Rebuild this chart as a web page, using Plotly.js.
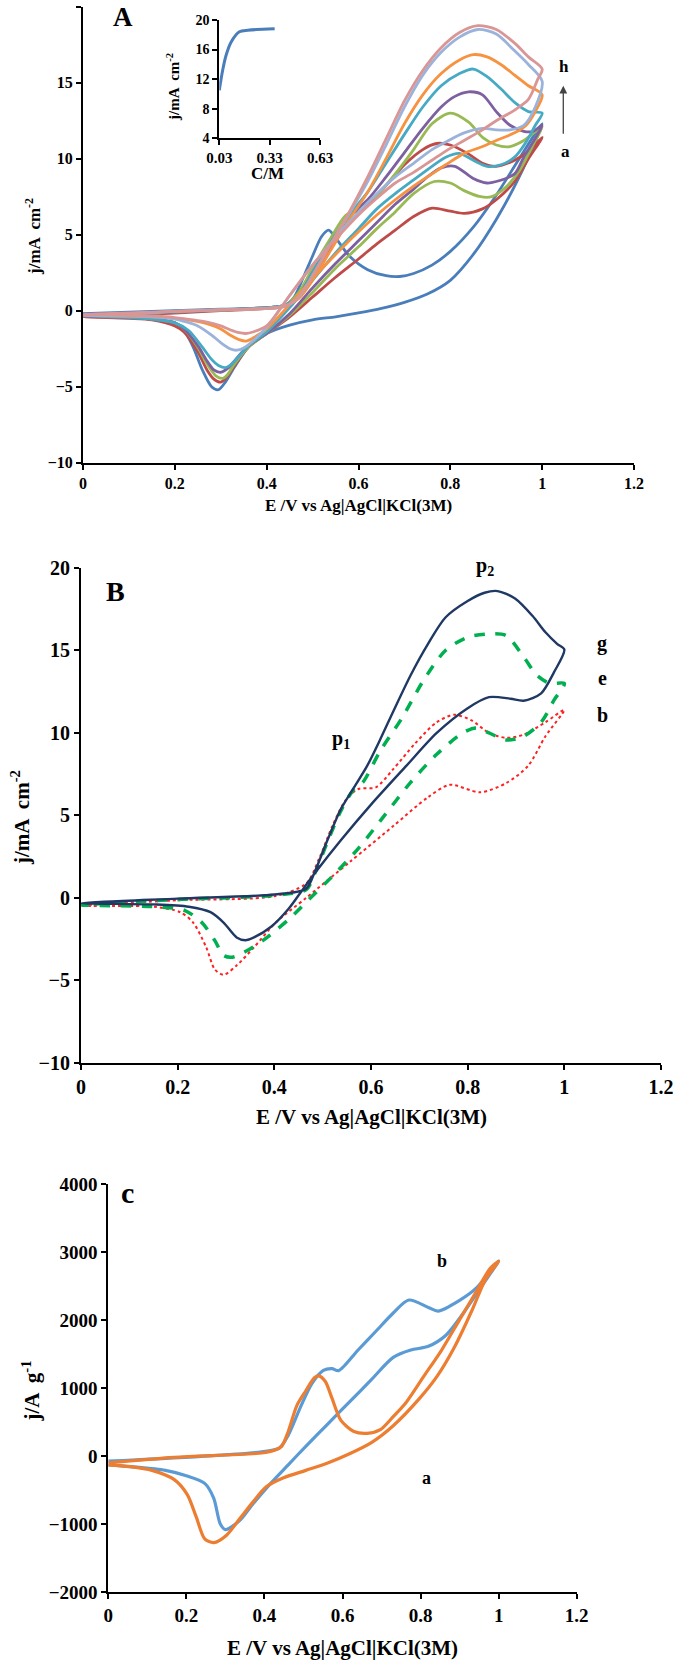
<!DOCTYPE html>
<html>
<head>
<meta charset="utf-8">
<script src="https://cdn.plot.ly/plotly-3.0.1.min.js"></script>
<style>html,body{margin:0;padding:0;background:#fff;}#chart{width:685px;height:1660px;}</style>
</head>
<body>
<div id="chart"></div>
<script>
// ---------- Panel A : CV curves a..h (forward sweep then reverse sweep) ----------
const A_a_E = [0,0.1,0.2,0.3,0.4,0.44,0.46,0.48,0.5,0.52,0.535,0.55,0.58,0.62,0.66,0.69,0.72,0.76,0.8,0.85,0.9,0.95,1.0,
  0.95,0.9,0.85,0.8,0.75,0.7,0.65,0.6,0.55,0.5,0.45,0.4,0.36,0.33,0.31,0.295,0.28,0.26,0.24,0.22,0.2,0.15,0.1,0];
const A_a_J = [-0.2,-0.1,0.0,0.1,0.2,0.35,0.9,2.2,3.6,4.9,5.3,4.8,3.6,2.7,2.3,2.25,2.45,3.0,3.9,5.5,7.6,10.0,12.3,
  8.8,6.0,3.7,2.0,1.1,0.55,0.15,-0.15,-0.4,-0.6,-0.95,-1.5,-2.4,-3.7,-4.7,-5.2,-5.0,-3.9,-2.4,-1.3,-0.8,-0.5,-0.4,-0.3];

const A_b_E = [0,0.1,0.2,0.3,0.4,0.44,0.47,0.5,0.54,0.58,0.61,0.65,0.7,0.74,0.77,0.8,0.84,0.87,0.9,0.94,0.97,1.0,
  0.97,0.94,0.9,0.87,0.83,0.8,0.76,0.72,0.68,0.64,0.6,0.55,0.5,0.45,0.4,0.36,0.33,0.315,0.3,0.285,0.27,0.25,0.22,0.2,0.15,0.1,0];
const A_b_J = [-0.4,-0.3,-0.15,0.0,0.15,0.3,0.9,2.2,4.2,6.3,6.7,7.9,9.6,10.6,11.0,10.9,10.3,9.7,9.5,9.9,10.5,11.4,
  10.0,8.5,7.3,6.7,6.4,6.55,6.75,6.2,5.3,4.4,3.4,2.2,0.9,-0.4,-1.5,-2.4,-3.6,-4.3,-4.7,-4.5,-3.9,-2.7,-1.4,-1.0,-0.6,-0.5,-0.4];

const A_c_E = [0,0.1,0.2,0.3,0.4,0.44,0.47,0.5,0.54,0.57,0.6,0.64,0.68,0.72,0.76,0.8,0.84,0.87,0.9,0.93,0.96,1.0,
  0.98,0.95,0.92,0.89,0.866,0.83,0.8,0.765,0.72,0.68,0.64,0.6,0.55,0.5,0.45,0.4,0.36,0.33,0.315,0.305,0.29,0.27,0.25,0.22,0.2,0.15,0.1,0];
const A_c_J = [-0.35,-0.25,-0.1,0.05,0.2,0.35,1.2,2.8,4.8,6.2,6.8,7.6,9.0,10.6,12.3,13.0,12.4,11.4,10.9,10.8,11.2,12.1,
  10.9,9.2,8.1,7.5,7.5,7.9,8.4,8.5,7.7,6.5,5.4,4.2,2.8,1.2,-0.3,-1.5,-2.4,-3.5,-4.2,-4.45,-4.3,-3.5,-2.4,-1.2,-0.8,-0.55,-0.45,-0.35];

const A_d_E = [0,0.1,0.2,0.3,0.4,0.44,0.47,0.5,0.54,0.58,0.62,0.66,0.7,0.74,0.78,0.81,0.84,0.87,0.9,0.93,0.96,0.98,1.0,
  0.98,0.96,0.94,0.9,0.88,0.85,0.81,0.78,0.75,0.72,0.68,0.64,0.6,0.55,0.5,0.45,0.4,0.36,0.33,0.315,0.3,0.285,0.27,0.25,0.22,0.2,0.15,0.1,0];
const A_d_J = [-0.35,-0.25,-0.1,0.05,0.2,0.35,1.0,2.5,4.5,6.2,7.3,8.8,10.4,12.0,13.4,14.1,14.4,14.2,13.1,12.2,11.8,11.8,12.2,
  11.1,10.1,9.0,8.5,8.4,8.7,9.5,9.4,8.8,8.0,7.0,5.8,4.6,3.1,1.5,-0.2,-1.5,-2.3,-3.3,-3.8,-4.05,-3.9,-3.3,-2.3,-1.2,-0.8,-0.55,-0.45,-0.35];

const A_e_E = [0,0.1,0.2,0.3,0.4,0.44,0.47,0.5,0.54,0.58,0.62,0.66,0.7,0.74,0.78,0.82,0.85,0.88,0.91,0.94,0.97,1.0,
  0.985,0.965,0.94,0.91,0.88,0.85,0.82,0.79,0.76,0.72,0.68,0.64,0.6,0.55,0.5,0.45,0.4,0.36,0.34,0.32,0.31,0.295,0.28,0.26,0.23,0.2,0.15,0.1,0];
const A_e_J = [-0.3,-0.2,-0.05,0.05,0.2,0.35,1.0,2.5,4.5,6.3,7.8,9.7,11.6,13.4,14.8,15.6,15.9,15.4,14.6,13.7,13.1,13.0,
  12.2,11.1,10.1,9.6,9.5,9.9,10.35,10.1,9.5,8.6,7.7,6.7,5.4,3.8,2.0,0.2,-1.4,-2.3,-3.0,-3.6,-3.75,-3.6,-3.2,-2.4,-1.3,-0.8,-0.55,-0.45,-0.3];

const A_f_E = [0,0.1,0.2,0.3,0.4,0.44,0.47,0.5,0.54,0.58,0.62,0.66,0.7,0.74,0.78,0.82,0.85,0.88,0.91,0.94,0.97,1.0,
  0.985,0.965,0.94,0.9,0.87,0.83,0.79,0.76,0.72,0.68,0.64,0.6,0.55,0.5,0.45,0.4,0.37,0.355,0.34,0.32,0.3,0.27,0.24,0.2,0.15,0.1,0];
const A_f_J = [-0.3,-0.2,-0.05,0.05,0.15,0.3,0.8,2.0,4.0,6.0,7.8,10.0,12.3,14.2,15.6,16.5,16.85,16.7,16.2,15.5,14.8,14.2,
  13.1,12.2,11.7,11.2,10.8,10.35,9.6,9.0,8.2,7.3,6.3,5.2,3.7,2.1,0.4,-1.2,-1.8,-2.0,-1.9,-1.6,-1.2,-0.85,-0.65,-0.5,-0.4,-0.35,-0.3];

const A_g_E = [0,0.1,0.2,0.3,0.4,0.44,0.47,0.5,0.54,0.58,0.62,0.66,0.7,0.74,0.78,0.82,0.86,0.9,0.94,0.97,1.0,
  0.985,0.96,0.93,0.9,0.87,0.83,0.79,0.76,0.72,0.68,0.64,0.6,0.55,0.5,0.45,0.4,0.37,0.35,0.335,0.32,0.3,0.28,0.25,0.22,0.2,0.15,0.1,0];
const A_g_J = [-0.3,-0.2,-0.05,0.05,0.15,0.3,0.9,2.3,4.4,6.4,8.5,10.9,13.4,15.5,17.0,18.0,18.5,18.2,17.1,16.2,15.1,
  13.4,12.2,11.9,11.9,12.0,11.7,11.1,10.6,9.7,8.8,7.7,6.5,4.8,3.0,1.0,-1.1,-2.0,-2.45,-2.6,-2.5,-2.1,-1.6,-1.0,-0.7,-0.55,-0.4,-0.35,-0.3];

const A_h_E = [0,0.1,0.2,0.3,0.4,0.44,0.47,0.5,0.54,0.58,0.62,0.66,0.7,0.74,0.78,0.82,0.86,0.9,0.94,0.97,1.0,
  0.99,0.97,0.94,0.9,0.87,0.83,0.79,0.76,0.72,0.68,0.64,0.6,0.55,0.5,0.45,0.4,0.37,0.355,0.34,0.32,0.3,0.27,0.24,0.2,0.15,0.1,0];
const A_h_J = [-0.25,-0.15,-0.05,0.05,0.15,0.3,0.9,2.3,4.4,6.5,8.8,11.3,13.8,15.8,17.3,18.3,18.75,18.5,17.6,16.7,15.9,
  15.2,13.9,13.2,12.5,11.9,11.2,10.5,9.9,9.1,8.4,7.4,6.3,4.7,3.0,1.0,-1.0,-1.4,-1.5,-1.45,-1.25,-1.0,-0.75,-0.6,-0.45,-0.35,-0.3,-0.25];

// Inset of panel A : peak current vs concentration
const inset_C = [0.03,0.05,0.07,0.10,0.15,0.20,0.25,0.36];
const inset_J = [10.5,13.2,15.2,17.0,18.4,18.6,18.7,18.8];

// ---------- Panel B : curves b, e, g ----------
const B_g_E = [0,0.2,0.4,0.466,0.484,0.51,0.538,0.565,0.592,0.619,0.646,0.682,0.718,0.754,0.8,0.835,0.862,0.898,0.934,0.961,0.985,1.0,
  0.979,0.952,0.916,0.889,0.844,0.8,0.736,0.673,0.6,0.538,0.484,0.457,0.43,0.394,0.358,0.34,0.322,0.295,0.268,0.223,0.15,0];
const B_g_J = [-0.33,-0.05,0.2,0.55,1.6,3.5,5.4,6.7,8.0,9.6,11.3,13.5,15.4,17.0,18.0,18.5,18.6,18.15,17.1,16.1,15.4,15.05,
  13.7,12.4,11.95,12.07,12.17,11.5,10.0,8.0,5.65,3.5,1.5,0.43,-0.65,-1.74,-2.4,-2.57,-2.4,-1.5,-0.87,-0.54,-0.4,-0.33];

const B_e_E = [0,0.2,0.4,0.466,0.484,0.51,0.538,0.565,0.583,0.619,0.664,0.709,0.754,0.8,0.844,0.88,0.916,0.943,0.97,1.0,
  0.979,0.952,0.916,0.88,0.844,0.817,0.79,0.736,0.682,0.628,0.574,0.52,0.475,0.43,0.376,0.34,0.313,0.295,0.277,0.25,0.214,0.15,0];
const B_e_J = [-0.43,-0.1,0.15,0.5,1.5,3.4,5.3,6.6,7.0,8.9,10.9,13.2,15.0,15.8,16.0,15.9,14.6,13.5,13.0,13.0,
  12.0,10.65,9.8,9.57,10.0,10.3,10.0,8.7,7.0,5.0,3.0,1.3,0,-1.3,-2.6,-3.26,-3.6,-3.5,-2.6,-1.5,-0.76,-0.54,-0.43];

const B_b_E = [0,0.2,0.4,0.466,0.493,0.52,0.547,0.574,0.61,0.646,0.691,0.736,0.772,0.808,0.844,0.88,0.916,0.961,1.0,
  0.961,0.925,0.88,0.826,0.763,0.718,0.646,0.556,0.466,0.403,0.358,0.322,0.295,0.277,0.259,0.232,0.205,0.15,0];
const B_b_J = [-0.48,-0.15,0.1,0.87,2.4,4.35,5.9,6.6,6.7,7.8,9.35,10.65,11.1,10.76,10.0,9.7,9.9,10.65,11.4,
  9.8,8.0,6.96,6.4,6.85,6.1,4.35,2.17,0,-1.5,-3.0,-4.1,-4.67,-4.35,-3.0,-1.5,-0.87,-0.54,-0.48];

// ---------- Panel C : curves a, b (A g-1) ----------
const C_b_E = [0,0.393,0.438,0.461,0.494,0.522,0.551,0.573,0.59,0.64,0.685,0.73,0.77,0.82,0.845,0.899,0.944,1.0,
  0.955,0.91,0.865,0.82,0.775,0.73,0.674,0.618,0.562,0.506,0.461,0.416,0.371,0.337,0.3,0.287,0.27,0.247,0.202,0.146,0.056,0];
const C_b_J = [-71,65,120,310,746,1073,1264,1290,1260,1563,1835,2108,2298,2190,2135,2290,2480,2870,
  2490,2108,1781,1618,1563,1454,1127,800,474,147,-125,-398,-697,-942,-1078,-997,-615,-398,-289,-207,-152,-125];

const C_a_E = [0,0.169,0.393,0.427,0.444,0.461,0.483,0.506,0.528,0.539,0.556,0.573,0.596,0.629,0.663,0.697,0.73,0.764,0.809,0.854,0.899,0.944,0.978,1.0,
  0.966,0.933,0.888,0.843,0.798,0.73,0.674,0.618,0.562,0.506,0.449,0.404,0.371,0.337,0.303,0.27,0.247,0.225,0.202,0.169,0.112,0.056,0];
const C_a_J = [-98,-16,49,93,147,365,746,964,1155,1182,1100,855,528,365,338,392,583,800,1182,1563,1999,2435,2761,2870,
  2598,2162,1618,1182,855,450,202,38,-98,-207,-316,-452,-670,-915,-1160,-1269,-1215,-888,-561,-343,-207,-152,-125];

// tick labels
const ticksE = [0,0.2,0.4,0.6,0.8,1,1.2];
const ticksJ = [-10,-5,0,5,10,15,20];
const ticksJg = [-2000,-1000,0,1000,2000,3000,4000];
const insetTicksC = [0.03,0.33,0.63];
const insetTicksJ = [4,8,12,16,20];

// ---------- build ----------
const FONT = 'Liberation Serif, Times New Roman, serif';
function cv(x, y, xa, ya, color, width, dash) {
  return {x: x, y: y, xaxis: xa, yaxis: ya, type: 'scatter', mode: 'lines',
    line: {color: color, width: width, dash: dash || 'solid', shape: 'spline', smoothing: 0.8},
    hoverinfo: 'skip'};
}
const data = [
  cv(A_a_E, A_a_J, 'x', 'y', '#4A7EBB', 2.8),
  cv(A_b_E, A_b_J, 'x', 'y', '#BE4B48', 2.8),
  cv(A_c_E, A_c_J, 'x', 'y', '#98B954', 2.8),
  cv(A_d_E, A_d_J, 'x', 'y', '#7D60A0', 2.8),
  cv(A_e_E, A_e_J, 'x', 'y', '#46AAC5', 2.8),
  cv(A_f_E, A_f_J, 'x', 'y', '#F69240', 2.8),
  cv(A_g_E, A_g_J, 'x', 'y', '#9BB3DB', 2.8),
  cv(A_h_E, A_h_J, 'x', 'y', '#D99694', 2.8),
  cv(inset_C, inset_J, 'x4', 'y4', '#4A7EBB', 3),
  cv(B_b_E, B_b_J, 'x2', 'y2', '#FF2020', 2, 'dot'),
  cv(B_e_E, B_e_J, 'x2', 'y2', '#00B050', 3.5, 'dash'),
  cv(B_g_E, B_g_J, 'x2', 'y2', '#1F3864', 2.4),
  cv(C_b_E, C_b_J, 'x3', 'y3', '#5B9BD5', 3.2),
  cv(C_a_E, C_a_J, 'x3', 'y3', '#ED7D31', 3.2)
];

function ax(domain, range, tickvals, size, anchor, extra) {
  return Object.assign({
    domain: domain, range: range, anchor: anchor, tickvals: tickvals,
    showline: true, linecolor: '#000', linewidth: 2, mirror: false,
    ticks: 'outside', ticklen: 5, tickwidth: 2, tickcolor: '#000',
    showgrid: false, zeroline: false, fixedrange: true,
    tickfont: {family: FONT, size: size, color: '#000', weight: 'bold'}
  }, extra || {});
}
const W = 685, H = 1660;
const px = v => v / W, py = v => 1 - v / H;

const layout = {
  width: W, height: H, margin: {l: 0, r: 0, t: 0, b: 0},
  paper_bgcolor: '#fff', plot_bgcolor: 'rgba(0,0,0,0)', showlegend: false,
  font: {family: FONT, color: '#000'},
  xaxis: ax([px(83), px(634)], [0, 1.2], ticksE, 16, 'y'),
  yaxis: ax([py(462.7), py(6.7)], [-10, 20], ticksJ, 16, 'x'),
  xaxis2: ax([px(81), px(661)], [0, 1.2], ticksE, 20, 'y2'),
  yaxis2: ax([py(1062.7), py(568)], [-10, 20], ticksJ, 20, 'x2'),
  xaxis3: ax([px(108.3), px(576.7)], [0, 1.2], ticksE, 19, 'y3'),
  yaxis3: ax([py(1592.3), py(1184.3)], [-2000, 4000], ticksJg, 19, 'x3'),
  xaxis4: ax([px(219.3), px(320)], [0.03, 0.63], insetTicksC, 15, 'y4', {tickformat: '.2f'}),
  yaxis4: ax([py(138.3), py(20)], [4, 20], insetTicksJ, 14, 'x4'),
  annotations: []
};

function lab(text, x, y, xref, yref, size, extra) {
  return Object.assign({text: '<b>' + text + '</b>', x: x, y: y, xref: xref, yref: yref,
    showarrow: false, xanchor: 'center', yanchor: 'middle',
    font: {family: FONT, size: size, color: '#000'}}, extra || {});
}
const XT = 'E /V vs Ag|AgCl|KCl(3M)';
layout.annotations.push(
  // panel A
  lab('A', 0.087, 19.3, 'x', 'y', 27),
  lab('h', 1.048, 16.05, 'x', 'y', 17),
  lab('a', 1.051, 10.5, 'x', 'y', 17),
  {x: 1.046, y: 14.8, ax: 1.046, ay: 11.55, xref: 'x', yref: 'y', axref: 'x', ayref: 'y',
   showarrow: true, arrowhead: 2, arrowsize: 1.2, arrowwidth: 1.3, arrowcolor: '#444', text: ''},
  lab(XT, px(358.5), py(505), 'paper', 'paper', 17),
  lab('j/mA  cm<sup>-2</sup>', px(33), py(237), 'paper', 'paper', 17, {textangle: -90}),
  lab('C/M', px(267), py(173), 'paper', 'paper', 17),
  lab('j/mA  cm<sup>-2</sup>', px(173), py(87), 'paper', 'paper', 15, {textangle: -90}),
  // panel B
  lab('B', 0.072, 18.6, 'x2', 'y2', 28),
  lab('p<sub>2</sub>', px(485), py(566), 'paper', 'paper', 20),
  lab('p<sub>1</sub>', 0.538, 9.6, 'x2', 'y2', 20),
  lab('g', 1.078, 15.4, 'x2', 'y2', 20),
  lab('e', 1.078, 13.3, 'x2', 'y2', 20),
  lab('b', 1.078, 11.1, 'x2', 'y2', 20),
  lab(XT, px(371), py(1116.7), 'paper', 'paper', 21),
  lab('j/mA  cm<sup>-2</sup>', px(20), py(818), 'paper', 'paper', 21, {textangle: -90}),
  // panel C
  lab('c', 0.05, 3880, 'x3', 'y3', 30),
  lab('b', 0.855, 2870, 'x3', 'y3', 18),
  lab('a', 0.814, -315, 'x3', 'y3', 18),
  lab(XT, px(342.5), py(1648), 'paper', 'paper', 21),
  lab('j/A  g<sup>-1</sup>', px(30.6), py(1391), 'paper', 'paper', 21, {textangle: -90})
);

Plotly.newPlot('chart', data, layout, {displayModeBar: false, staticPlot: true});
</script>
</body>
</html>
